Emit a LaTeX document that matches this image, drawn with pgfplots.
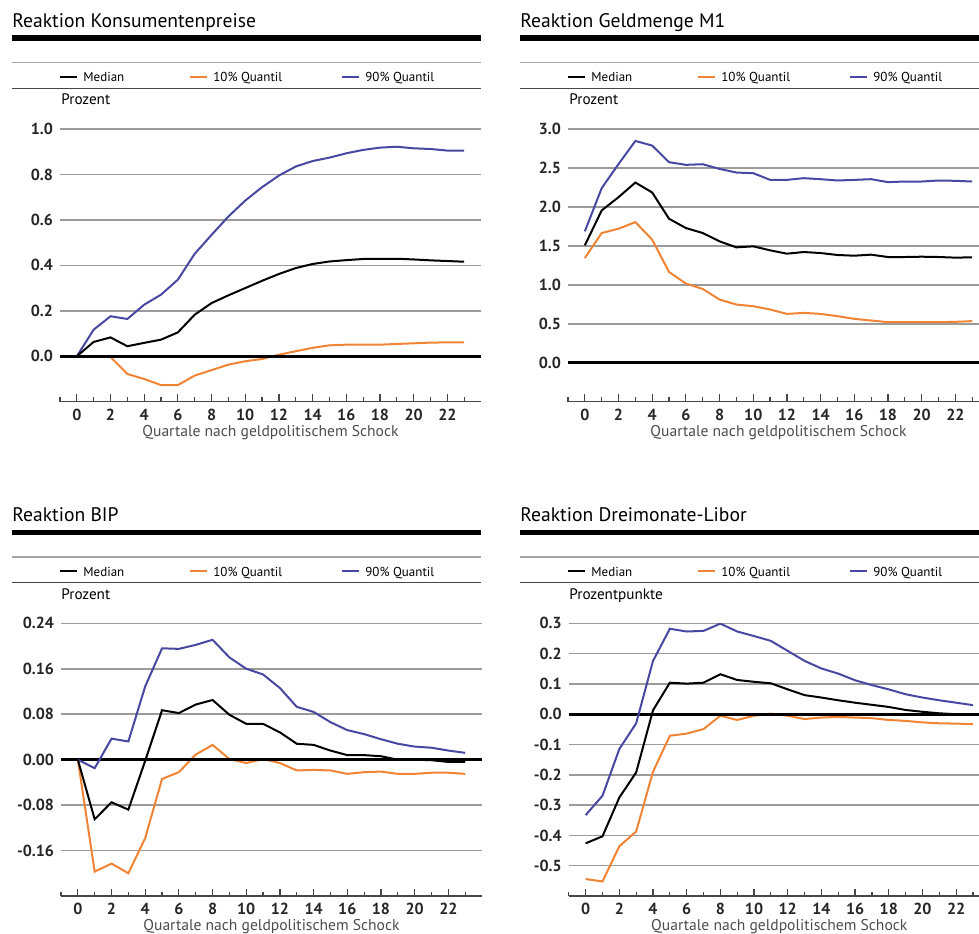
\documentclass[border=0pt]{standalone}
\usepackage{pgfplots}
\pgfplotsset{compat=1.18}
\usepackage{fontspec}
\setmainfont{PT Sans}

\definecolor{qblue}{RGB}{72,72,162}
\definecolor{qorange}{RGB}{240,132,52}
\definecolor{gridgray}{RGB}{155,155,155}
\definecolor{axisgray}{RGB}{70,70,70}

% Common style of the four impulse-response panels
\pgfplotsset{
  irf/.style={
    scale only axis, width=210.5pt, height=136.35pt,
    xmin=-1, xmax=24,
    axis x line*=bottom, axis y line*=left,
    y axis line style={draw=none},
    x axis line style={axisgray, line width=0.8pt},
    xtick={0,2,...,22}, minor xtick={-1,1,...,23},
    tick align=inside,
    major tick length=3.6pt, minor tick length=2.2pt,
    xtick style={axisgray, line width=0.6pt},
    minor tick style={axisgray, line width=0.6pt},
    ytick style={draw=none},
    ymajorgrids, grid style={gridgray, line width=0.75pt},
    tick label style={font=\bfseries\fontsize{8}{9}\selectfont, text=black!85},
    xticklabel style={/pgf/number format/assume math mode=true},
    yticklabel style={anchor=east,
      /pgf/number format/fixed,
      /pgf/number format/fixed zerofill,
      /pgf/number format/precision=1,
      /pgf/number format/assume math mode=true},
    xlabel={Quartale nach geldpolitischem Schock},
    xlabel style={font=\fontsize{7.8}{9}\selectfont, text=black!70, yshift=4.5pt},
  },
  zeroline/.style={black, line width=1.7pt, forget plot},
  med/.style={black, line width=1pt, no markers},
  q10/.style={qorange, line width=1pt, no markers},
  q90/.style={qblue, line width=1pt, no markers},
}

% Panel heading: title, rules, legend and unit
\newcommand{\panelhead}[4]{%
  \begin{scope}[x=0.5pt, y=0.5pt, shift={(#1,-#2)}]
    \node[anchor=base west, inner sep=0, font=\fontsize{9.8}{11}\selectfont] at (12,905.7) {#3};
    \draw[black, line width=2.6pt] (12,895) -- (481,895);
    \draw[gray!70, line width=0.6pt] (12,870.3) -- (481,870.3);
    \draw[black, line width=1pt] (60,856.3) -- (77,856.3);
    \node[anchor=mid west, inner sep=0, font=\fontsize{6.5}{8}\selectfont] at (83,856.3) {Median};
    \draw[qorange, line width=1pt] (190,856.3) -- (207,856.3);
    \node[anchor=mid west, inner sep=0, font=\fontsize{6.5}{8}\selectfont] at (213,856.3) {10\% Quantil};
    \draw[qblue, line width=1pt] (342,856.3) -- (359,856.3);
    \node[anchor=mid west, inner sep=0, font=\fontsize{6.5}{8}\selectfont] at (365,856.3) {90\% Quantil};
    \draw[axisgray, line width=0.6pt] (12,844.7) -- (481,844.7);
    \node[anchor=base west, inner sep=0, font=\fontsize{7.6}{9}\selectfont] at (61,828) {#4};
  \end{scope}}

\begin{document}
\begin{tikzpicture}
\useasboundingbox (0pt,0pt) rectangle (489.5pt,466.5pt);
\clip (0pt,0pt) rectangle (489.5pt,466.5pt);

\panelhead{0}{0}{Reaktion Konsumentenpreise}{Prozent}
\panelhead{508}{0}{Reaktion Geldmenge M1}{Prozent}
\panelhead{0}{494.3}{Reaktion BIP}{Prozent}
\panelhead{508}{494.3}{Reaktion Dreimonate-Libor}{Prozentpunkte}

% Konsumentenpreise
\begin{axis}[irf, at={(30pt,265.65pt)}, anchor=south west,
  ymin=-0.2, ymax=1.0, ytick={0,0.2,0.4,0.6,0.8,1.0}]
\addplot[q10] coordinates {(0,0) (1,-0.002) (2,-0.003) (3,-0.078) (4,-0.100) (5,-0.127) (6,-0.127) (7,-0.085) (8,-0.061) (9,-0.037) (10,-0.022) (11,-0.012) (12,0.007) (13,0.022) (14,0.037) (15,0.048) (16,0.051) (17,0.051) (18,0.051) (19,0.054) (20,0.057) (21,0.060) (22,0.061) (23,0.061)};
\addplot[zeroline] coordinates {(-1,0) (24,0)};
\addplot[q90] coordinates {(0,0) (1,0.117) (2,0.176) (3,0.164) (4,0.227) (5,0.271) (6,0.337) (7,0.451) (8,0.534) (9,0.615) (10,0.685) (11,0.744) (12,0.795) (13,0.835) (14,0.859) (15,0.874) (16,0.893) (17,0.908) (18,0.918) (19,0.922) (20,0.915) (21,0.912) (22,0.905) (23,0.905)};
\addplot[med] coordinates {(0,0) (1,0.063) (2,0.083) (3,0.044) (4,0.059) (5,0.073) (6,0.105) (7,0.183) (8,0.234) (9,0.268) (10,0.300) (11,0.332) (12,0.362) (13,0.388) (14,0.406) (15,0.417) (16,0.423) (17,0.428) (18,0.429) (19,0.429) (20,0.426) (21,0.422) (22,0.419) (23,0.416)};
\end{axis}

% Geldmenge M1
\begin{axis}[irf, at={(284pt,265.65pt)}, anchor=south west,
  ymin=-0.5, ymax=3.0, ytick={0,0.5,1.0,1.5,2.0,2.5,3.0}]
\addplot[q10] coordinates {(0,1.344) (1,1.665) (2,1.720) (3,1.805) (4,1.579) (5,1.165) (6,1.016) (7,0.947) (8,0.811) (9,0.747) (10,0.726) (11,0.683) (12,0.627) (13,0.640) (14,0.627) (15,0.598) (16,0.563) (17,0.542) (18,0.521) (19,0.521) (20,0.521) (21,0.521) (22,0.525) (23,0.534)};
\addplot[zeroline] coordinates {(-1,0) (24,0)};
\addplot[q90] coordinates {(0,1.686) (1,2.241) (2,2.550) (3,2.847) (4,2.787) (5,2.574) (6,2.540) (7,2.548) (8,2.488) (9,2.441) (10,2.433) (11,2.347) (12,2.347) (13,2.369) (14,2.356) (15,2.339) (16,2.347) (17,2.356) (18,2.318) (19,2.326) (20,2.326) (21,2.339) (22,2.335) (23,2.326)};
\addplot[med] coordinates {(0,1.507) (1,1.955) (2,2.125) (3,2.313) (4,2.185) (5,1.848) (6,1.729) (7,1.665) (8,1.558) (9,1.481) (10,1.494) (11,1.443) (12,1.400) (13,1.421) (14,1.408) (15,1.383) (16,1.374) (17,1.387) (18,1.357) (19,1.357) (20,1.361) (21,1.357) (22,1.349) (23,1.353)};
\end{axis}

% BIP
\begin{axis}[irf, at={(30.5pt,18.5pt)}, anchor=south west,
  ymin=-0.24, ymax=0.24, ytick={-0.16,-0.08,0,0.08,0.16,0.24},
  yticklabel style={/pgf/number format/precision=2}]
\addplot[q10] coordinates {(0,0) (1,-0.197) (2,-0.183) (3,-0.200) (4,-0.138) (5,-0.034) (6,-0.022) (7,0.009) (8,0.026) (9,0.001) (10,-0.006) (11,0.001) (12,-0.006) (13,-0.019) (14,-0.018) (15,-0.019) (16,-0.025) (17,-0.022) (18,-0.021) (19,-0.025) (20,-0.025) (21,-0.023) (22,-0.023) (23,-0.025)};
\addplot[zeroline] coordinates {(-1,0) (24,0)};
\addplot[q90] coordinates {(0,0) (1,-0.015) (2,0.037) (3,0.032) (4,0.129) (5,0.196) (6,0.195) (7,0.202) (8,0.211) (9,0.180) (10,0.160) (11,0.150) (12,0.126) (13,0.093) (14,0.084) (15,0.066) (16,0.052) (17,0.045) (18,0.036) (19,0.028) (20,0.023) (21,0.021) (22,0.016) (23,0.012)};
\addplot[med] coordinates {(0,0) (1,-0.105) (2,-0.075) (3,-0.088) (4,-0.002) (5,0.087) (6,0.082) (7,0.097) (8,0.105) (9,0.079) (10,0.063) (11,0.063) (12,0.048) (13,0.028) (14,0.026) (15,0.016) (16,0.008) (17,0.008) (18,0.006) (19,0.0) (20,0.0) (21,-0.001) (22,-0.004) (23,-0.004)};
\end{axis}

% Dreimonate-Libor
\begin{axis}[irf, at={(284.4pt,18.5pt)}, anchor=south west,
  ymin=-0.6, ymax=0.3, ytick={-0.5,-0.4,-0.3,-0.2,-0.1,0,0.1,0.2,0.3}]
\addplot[q10] coordinates {(0,-0.544) (1,-0.552) (2,-0.436) (3,-0.387) (4,-0.190) (5,-0.071) (6,-0.064) (7,-0.049) (8,-0.005) (9,-0.019) (10,-0.005) (11,0.002) (12,-0.005) (13,-0.016) (14,-0.011) (15,-0.009) (16,-0.011) (17,-0.013) (18,-0.019) (19,-0.022) (20,-0.027) (21,-0.030) (22,-0.031) (23,-0.033)};
\addplot[zeroline] coordinates {(-1,0) (24,0)};
\addplot[q90] coordinates {(0,-0.333) (1,-0.269) (2,-0.115) (3,-0.030) (4,0.176) (5,0.282) (6,0.273) (7,0.275) (8,0.299) (9,0.273) (10,0.258) (11,0.242) (12,0.209) (13,0.176) (14,0.151) (15,0.134) (16,0.112) (17,0.096) (18,0.082) (19,0.066) (20,0.055) (21,0.046) (22,0.038) (23,0.030)};
\addplot[med] coordinates {(0,-0.426) (1,-0.403) (2,-0.275) (3,-0.192) (4,0.013) (5,0.104) (6,0.101) (7,0.104) (8,0.132) (9,0.113) (10,0.107) (11,0.102) (12,0.082) (13,0.063) (14,0.055) (15,0.046) (16,0.038) (17,0.031) (18,0.024) (19,0.014) (20,0.008) (21,0.003) (22,0.0) (23,0.0)};
\end{axis}
\end{tikzpicture}
\end{document}
